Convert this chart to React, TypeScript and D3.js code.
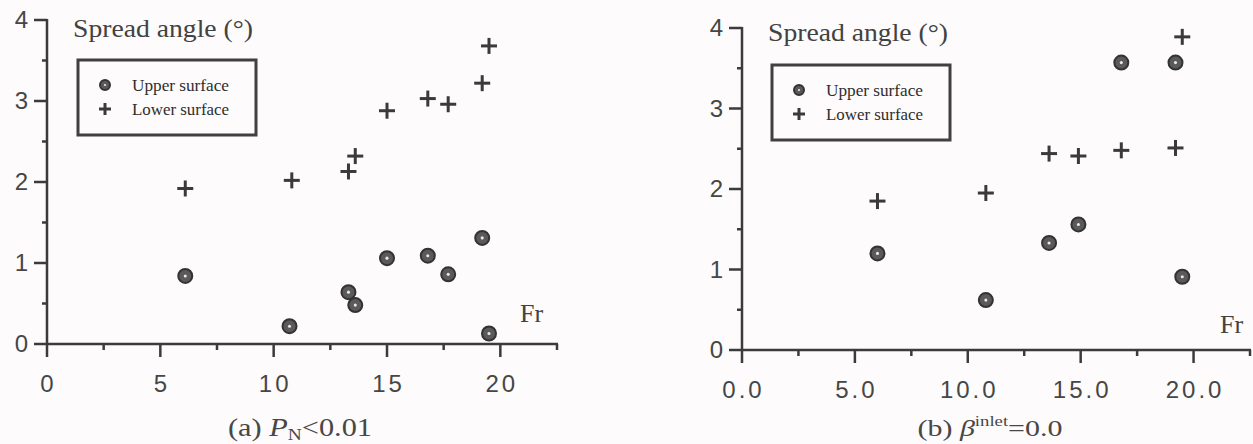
import React from 'react';
import * as d3 from 'd3';

// panel (a): P_N < 0.01
const frUpperA = [6.1, 10.7, 13.3, 13.6, 15.0, 16.8, 17.7, 19.2, 19.5];
const upperA = [0.84, 0.22, 0.64, 0.48, 1.06, 1.09, 0.86, 1.31, 0.13];
const frLowerA = [6.1, 10.8, 13.3, 13.6, 15.0, 16.8, 17.7, 19.2, 19.5];
const lowerA = [1.92, 2.02, 2.13, 2.32, 2.88, 3.03, 2.96, 3.22, 3.68];

// panel (b): beta inlet = 0.0
const frUpperB = [6.0, 10.8, 13.6, 14.9, 16.8, 19.2, 19.5];
const upperB = [1.2, 0.62, 1.33, 1.56, 3.57, 3.57, 0.91];
const frLowerB = [6.0, 10.8, 13.6, 14.9, 16.8, 19.2, 19.5];
const lowerB = [1.85, 1.95, 2.44, 2.41, 2.48, 2.51, 3.89];

const xTickValues = d3.range(0, 22.51, 2.5);
const yTickValues = d3.range(0, 4.01, 0.5);
const legendLabels = ['Upper surface', 'Lower surface'];
const titleText = 'Spread angle (°)';

const INK = '#3b3b3b';
const SERIF = '"Liberation Serif", "DejaVu Serif", serif';
const SANS = '"Liberation Sans", Arial, sans-serif';

const Dot = ({ cx, cy, r = 7 }: { cx: number; cy: number; r?: number }) => (
  <g>
    <circle cx={cx} cy={cy} r={r} fill="#5a5a5a" stroke="#333" strokeWidth={2} />
    <circle cx={cx} cy={cy} r={r * 0.22} fill="#e8e8e8" />
  </g>
);

const Plus = ({ cx, cy, a = 8 }: { cx: number; cy: number; a?: number }) => (
  <g stroke="#3a3a3a" strokeWidth={3}>
    <line x1={cx - a} x2={cx + a} y1={cy} y2={cy} />
    <line x1={cx} x2={cx} y1={cy - a} y2={cy + a} />
  </g>
);

type PanelProps = {
  x0: number; x1: number; y0: number; y4: number;
  frU: number[]; vU: number[]; frL: number[]; vL: number[];
  fmt: (d: number) => string;
  legend: { x: number; y: number; w: number; h: number };
  titleY: number; frPos: [number, number];
};

const Panel = (p: PanelProps) => {
  const x = d3.scaleLinear().domain([0, 22.5]).range([p.x0, p.x1]);
  const y = d3.scaleLinear().domain([0, 4]).range([p.y0, p.y4]);
  const ax = x(0);
  const lg = p.legend;
  return (
    <g>
      {/* axes */}
      <g stroke={INK} strokeWidth={2.5} fill="none">
        <line x1={ax} x2={ax} y1={y(0)} y2={y(4) - 1} />
        <line x1={ax} x2={x(22.5) + 1} y1={y(0)} y2={y(0)} />
        {yTickValues.map(d => (
          <line key={'y' + d} x1={ax - (d % 1 === 0 ? 13 : 5)} x2={ax} y1={y(d)} y2={y(d)} />
        ))}
        {xTickValues.map(d => (
          <line key={'x' + d} x1={x(d)} x2={x(d)} y1={y(0)} y2={y(0) + (d % 5 === 0 ? 13 : 6)} />
        ))}
      </g>
      {yTickValues.filter(d => d % 1 === 0).map(d => (
        <text key={'yl' + d} x={ax - 19} y={y(d) + 8} textAnchor="end" fontFamily={SANS}
          fontSize={24} fill="#464646">{d}</text>
      ))}
      {xTickValues.filter(d => d % 5 === 0).map(d => (
        <text key={'xl' + d} x={x(d) + 1.5} y={y(0) + 48} textAnchor="middle" fontFamily={SANS}
          fontSize={24} letterSpacing={3} fill="#464646">{p.fmt(d)}</text>
      ))}
      <text x={ax + 26} y={p.titleY} fontFamily={SERIF} fontSize={25} fill="#424242"
        textLength={180} lengthAdjust="spacingAndGlyphs">{titleText}</text>
      <text x={p.frPos[0]} y={p.frPos[1]} fontFamily={SERIF} fontSize={26} fill="#424242">Fr</text>

      {/* legend */}
      <rect x={lg.x} y={lg.y} width={lg.w} height={lg.h} fill="none" stroke="#404040" strokeWidth={3} />
      <Dot cx={lg.x + 27} cy={lg.y + 25} r={5} />
      <Plus cx={lg.x + 27} cy={lg.y + 49} a={6} />
      {legendLabels.map((t, i) => (
        <text key={t} x={lg.x + 54} y={lg.y + 31 + i * 24} fontFamily={SERIF} fontSize={16}
          fill="#2e2e2e" textLength={97} lengthAdjust="spacingAndGlyphs">{t}</text>
      ))}

      {/* data */}
      {p.frL.map((f, i) => <Plus key={'l' + i} cx={x(f)} cy={y(p.vL[i])} />)}
      {p.frU.map((f, i) => <Dot key={'u' + i} cx={x(f)} cy={y(p.vU[i])} />)}
    </g>
  );
};

export default function App() {
  return (
    <svg width={1253} height={444} style={{ position: 'absolute', left: 0, top: 0 }}>
      <rect width={1253} height={444} fill="#fdfbfb" />
      <Panel x0={47} x1={557} y0={344} y4={20}
        frU={frUpperA} vU={upperA} frL={frLowerA} vL={lowerA}
        fmt={d => String(d)}
        legend={{ x: 78, y: 60, w: 178, h: 75 }} titleY={37} frPos={[520, 322]} />
      <Panel x0={742} x1={1250} y0={350} y4={28}
        frU={frUpperB} vU={upperB} frL={frLowerB} vL={lowerB}
        fmt={d => d.toFixed(1)}
        legend={{ x: 772, y: 65, w: 178, h: 75 }} titleY={41} frPos={[1220, 333]} />

      <text x={300} y={436} textAnchor="middle" fontFamily={SERIF} fontSize={25} fill="#474747"
        textLength={144} lengthAdjust="spacingAndGlyphs">
        (a) <tspan fontStyle="italic">P</tspan>
        <tspan fontSize={16} dy={4}>N</tspan>
        <tspan dy={-4}>{'<0.01'}</tspan>
      </text>
      <text x={990} y={436} textAnchor="middle" fontFamily={SERIF} fontSize={24} fill="#474747"
        textLength={145} lengthAdjust="spacingAndGlyphs">
        (b) <tspan fontStyle="italic">β</tspan>
        <tspan fontSize={15} dy={-10}>inlet</tspan>
        <tspan dy={10}>{'=0.0'}</tspan>
      </text>
    </svg>
  );
}
